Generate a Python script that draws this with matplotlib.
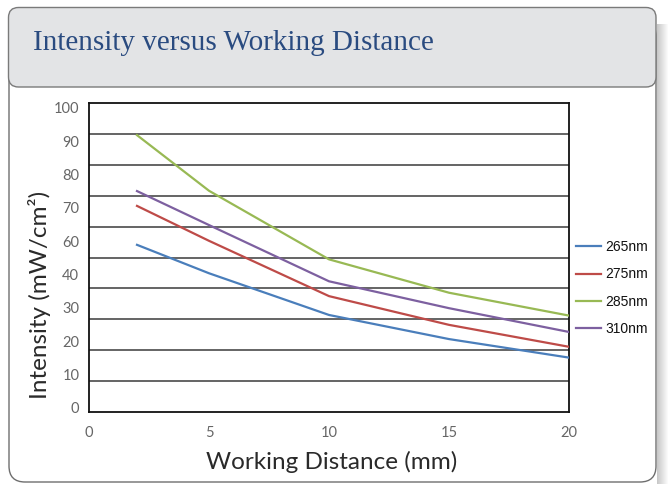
import numpy as np
import matplotlib
matplotlib.use("Agg")
import matplotlib.pyplot as plt
from matplotlib.patches import FancyBboxPatch, Rectangle

# ---- data ----
distance = [2, 5, 10, 15, 20]
series_names = ["265nm", "275nm", "285nm", "310nm"]
s265 = [54.1, 44.9, 31.4, 23.6, 17.6]
s275 = [66.7, 55.4, 37.5, 28.2, 21.1]
s285 = [89.6, 71.6, 49.4, 38.6, 31.2]
s310 = [71.5, 60.5, 42.3, 33.6, 25.9]
series_values = [s265, s275, s285, s310]
series_colors = ["#4A7EBB", "#BE4B48", "#98B954", "#7D60A0"]
ytick_labels = ["0", "10", "20", "30", "40", "60", "70", "80", "90", "100"]
xtick_labels = ["0", "5", "10", "15", "20"]
title = "Intensity versus Working Distance"

W, H = 669, 484
fig = plt.figure(figsize=(W / 100, H / 100), dpi=100)
fig.patch.set_facecolor("white")

# ---- background panel (pixel coordinates) ----
bg = fig.add_axes([0, 0, 1, 1], zorder=0)
bg.set_xlim(0, W)
bg.set_ylim(H, 0)
bg.axis("off")

# shadow on right
for i, a in enumerate(np.linspace(0.38, 0.03, 11)):
    bg.add_patch(Rectangle((657 + i, 24), 1, H - 24, facecolor="#707070",
                           edgecolor="none", alpha=a))
# body box
bg.add_patch(FancyBboxPatch((9, 20), 647, 462, boxstyle="round,pad=0,rounding_size=16",
                            facecolor="white", edgecolor="#6e6e6e", linewidth=1.0))
# header
bg.add_patch(FancyBboxPatch((8.5, 7.5), 647.5, 79.5, boxstyle="round,pad=0,rounding_size=10",
                            facecolor="#E3E4E6", edgecolor="#7a7a7a", linewidth=1.0))
bg.text(33, 43, title, fontsize=21, family="Liberation Serif", color="#2A4B80",
        va="center", ha="left")

# ---- main axes ----
left, right, top, bottom = 89, 569, 103, 412
ax = fig.add_axes([left / W, 1 - bottom / H, (right - left) / W, (bottom - top) / H], zorder=1)
ax.set_facecolor("none")
ax.set_xlim(0, 20)
ax.set_ylim(0, 100)

for g in np.arange(10, 100, 10):
    ax.axhline(g, color="#3a3a3a", linewidth=1.1, zorder=1)

for name, vals, col in zip(series_names, series_values, series_colors):
    ax.plot(distance, vals, color=col, linewidth=1.6, label=name, zorder=3)

for sp in ax.spines.values():
    sp.set_color("#111111")
    sp.set_linewidth(1.3)

tick_font = dict(family="Lato", fontweight="normal")
ax.set_xticks(np.linspace(0, 20, len(xtick_labels)))
ax.set_xticklabels(xtick_labels, color="#666666", fontsize=10.5, **tick_font)
ax.set_yticks(np.linspace(1.4, 98.4, len(ytick_labels)))
ax.set_yticklabels(ytick_labels, color="#666666", fontsize=10.5, **tick_font)
ax.tick_params(axis="both", length=0)
ax.tick_params(axis="x", pad=10)
ax.tick_params(axis="y", pad=7)

fig.text(40 / W, 1 - 295 / H, "Intensity (mW/cm²)", rotation=90, ha="center", va="center",
         fontsize=17.5, color="#2a2a2a", family="Lato", fontweight="normal")
fig.text(332 / W, 1 - 462 / H, "Working Distance (mm)", ha="center", va="center",
         fontsize=17.5, color="#2a2a2a", family="Lato", fontweight="normal")

leg = fig.legend(loc="center left", bbox_to_anchor=(576 / W, 1 - 288 / H), frameon=False,
                 prop=dict(family="Liberation Sans", size=10), handlelength=1.8,
                 handletextpad=0.3, labelspacing=0.95, borderpad=0, borderaxespad=0)
for t in leg.get_texts():
    t.set_color("#111111")

fig.savefig("out.png", dpi=100)
